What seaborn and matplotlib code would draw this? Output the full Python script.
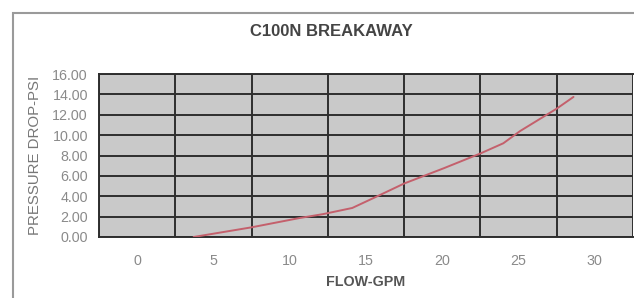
import matplotlib
matplotlib.use("Agg")
import matplotlib.pyplot as plt
import matplotlib.patches as mpatches
from matplotlib.ticker import FixedLocator, FormatStrFormatter
import seaborn as sns
import pandas as pd

title = "C100N BREAKAWAY"
x_label = "FLOW-GPM"
y_label = "PRESSURE DROP-PSI"
flow_gpm = [3.7, 7.5, 10.6, 12.2, 14.1, 15.6, 17.5, 20.1, 22.5, 24.0, 25.1, 27.5, 28.6]
pressure_psi = [0.0, 0.95, 1.85, 2.25, 2.85, 3.9, 5.25, 6.75, 8.2, 9.2, 10.4, 12.6, 13.75]
x_ticks = [0, 5, 10, 15, 20, 25, 30]
y_ticks = [0, 2, 4, 6, 8, 10, 12, 14, 16]

sns.set_style("white")
plt.rcParams["font.family"] = ["Liberation Sans", "DejaVu Sans"]

W, H = 634, 298
fig = plt.figure(figsize=(W / 100, H / 100), dpi=100)
ax = fig.add_axes([99 / W, 1 - 237 / H, (633 - 99) / W, (237 - 74) / H])

df = pd.DataFrame({"flow": flow_gpm, "psi": pressure_psi})
sns.lineplot(data=df, x="flow", y="psi", sort=False, ax=ax,
             color="#c4606c", linewidth=1.4, zorder=5)

ax.set_facecolor("#c9c9c9")
ax.set_xlim(-2.5, 32.5)
ax.set_ylim(0, 16)
ax.xaxis.set_major_locator(FixedLocator(x_ticks))
ax.xaxis.set_minor_locator(FixedLocator([-2.5 + 5 * i for i in range(8)]))
ax.yaxis.set_major_locator(FixedLocator(y_ticks))
ax.yaxis.set_major_formatter(FormatStrFormatter("%.2f"))
ax.grid(False)
ax.grid(True, which="minor", axis="x", color="#2e2e2e", linewidth=1.4)
ax.grid(True, which="major", axis="y", color="#2e2e2e", linewidth=1.4)
ax.set_axisbelow(True)
ax.tick_params(axis="both", which="both", length=0, labelsize=10.3, labelcolor="#8a8a8a")
ax.tick_params(axis="x", pad=12)
ax.tick_params(axis="y", pad=8)
for s in ax.spines.values():
    s.set_color("#2e2e2e")
    s.set_linewidth(1.4)
ax.spines["right"].set_visible(False)

ax.set_xlabel(x_label, fontsize=10.3, color="#555555", fontweight="bold", labelpad=5)
ax.set_ylabel(y_label, fontsize=10.8, color="#777777", labelpad=7.5)

fig.text(331 / W, 1 - 31 / H, title, ha="center", va="center",
         fontsize=12, fontweight="bold", color="#444444")

# outer chart frame
frame = mpatches.Rectangle((13 / W, -0.2), 1.2, 1 - 13 / H + 0.2,
                           transform=fig.transFigure, fill=False,
                           edgecolor="#9a9a9a", linewidth=1.5, zorder=0)
fig.patches.append(frame)

fig.savefig("out.png", dpi=100)
